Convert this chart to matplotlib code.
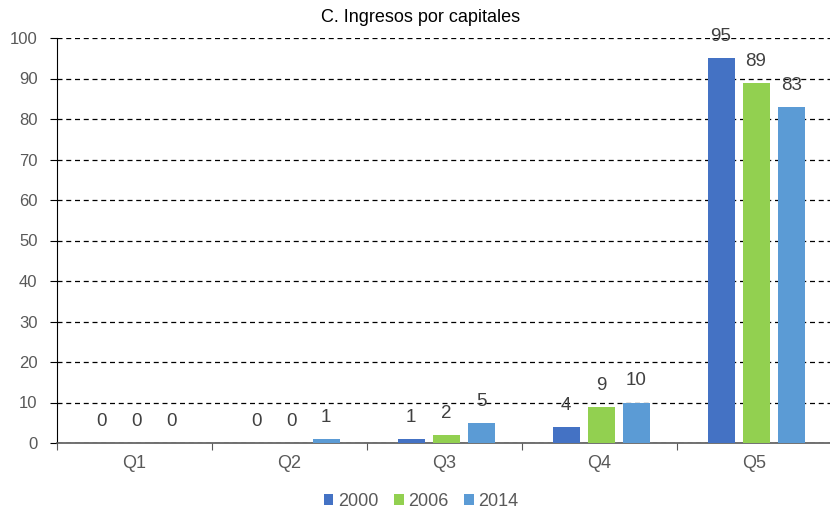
import matplotlib.pyplot as plt
import numpy as np

blue = '#4472C4'
green = '#92D050'
light_blue = '#5B9BD5'
grey = '#595959'

categories = ['Q1', 'Q2', 'Q3', 'Q4', 'Q5']
years = ['2000', '2006', '2014']
v2000 = [0, 0, 1, 4, 95]
v2006 = [0, 0, 2, 9, 89]
v2014 = [0, 1, 5, 10, 83]

plt.rcParams['font.family'] = ['Liberation Sans', 'DejaVu Sans']

fig = plt.figure(figsize=(8.3, 5.14), dpi=100)
ax = fig.add_axes([57/830, 1 - 443/514, 775/830, 405/514])

x = np.arange(len(categories))
width = 0.174
step = 0.226
series = [(v2000, blue), (v2006, green), (v2014, light_blue)]
for i, (vals, col) in enumerate(series):
    pos = x + (i - 1) * step + 0.01
    ax.bar(pos, vals, width, color=col, label=years[i], zorder=3)
    for xp, v in zip(pos, vals):
        ax.annotate(str(v), (xp, v), xytext=(0, 15.5), textcoords='offset points',
                    ha='center', va='center', fontsize=13.5, color='#404040',
                    zorder=4, annotation_clip=False)

ax.set_xlim(-0.5, len(categories) - 0.5)
ax.set_ylim(0, 100)
ax.set_yticks(np.arange(0, 101, 10))
ax.yaxis.grid(True, linestyle=(0, (4, 3)), color='black', lw=0.9, zorder=0)
ax.set_xticks(np.arange(-0.5, len(categories), 1.0))
ax.set_xticklabels([])
ax.set_xticks(x, minor=True)
ax.set_xticklabels(categories, minor=True)
ax.tick_params(axis='x', which='minor', length=0, pad=9, labelsize=13, labelcolor=grey)
ax.tick_params(axis='x', which='major', length=5, color=grey)
ax.tick_params(axis='y', length=5, pad=9, labelsize=12, labelcolor=grey, color='black')

ax.spines['top'].set_visible(False)
ax.spines['right'].set_visible(False)
ax.spines['left'].set_color('black')
ax.spines['bottom'].set_color(grey)
ax.spines['bottom'].set_linewidth(1.2)

fig.text(421/830, 1 - 17/514, 'C. Ingresos por capitales', fontsize=13,
         ha='center', va='center')

fig.legend(loc='center', bbox_to_anchor=(421/830, 1 - 501/514), ncol=3, frameon=False,
           fontsize=13, handlelength=0.55, handleheight=0.55, handletextpad=0.25,
           columnspacing=0.85, labelcolor=grey)

fig.savefig('out.png', dpi=100)
